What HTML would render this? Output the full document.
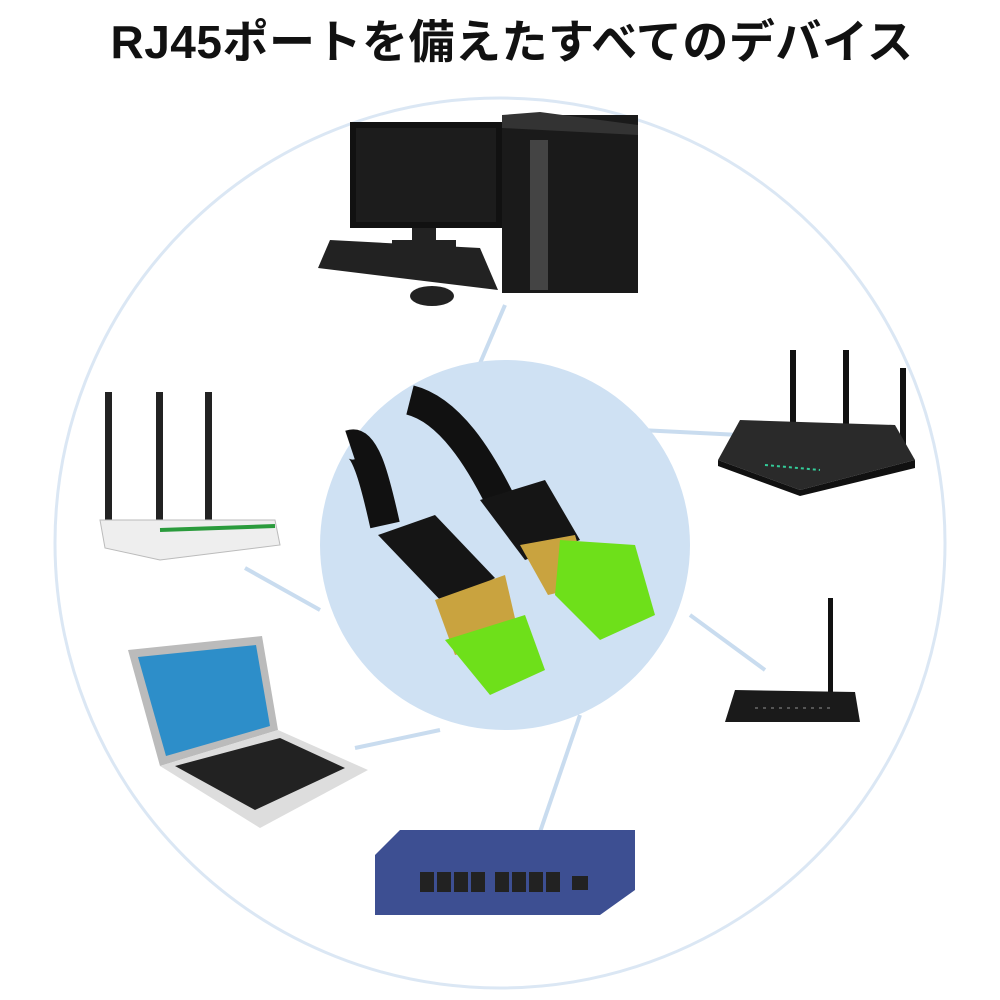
<!DOCTYPE html>
<html><head><meta charset="utf-8"><style>
html,body{margin:0;padding:0;background:#fff;width:1000px;height:1000px;overflow:hidden}
.t{position:absolute;left:0;top:6px;width:1000px;text-align:center;font:700 46px "Liberation Sans","Noto Sans CJK JP",sans-serif;color:#111;padding-left:24px;box-sizing:border-box;letter-spacing:0.5px}
</style></head><body>
<div class="t">RJ45ポートを備えたすべてのデバイス</div>
<svg width="1000" height="1000" style="position:absolute;left:0;top:0">
<circle cx="500" cy="543" r="445" fill="none" stroke="#dbe7f4" stroke-width="3"/>
<g stroke="#c9dcef" stroke-width="4">
<line x1="505" y1="305" x2="475" y2="375"/>
<line x1="245" y1="568" x2="320" y2="610"/>
<line x1="640" y1="430" x2="740" y2="435"/>
<line x1="690" y1="615" x2="765" y2="670"/>
<line x1="355" y1="748" x2="440" y2="730"/>
<line x1="580" y1="715" x2="540" y2="832"/>
</g>
<circle cx="505" cy="545" r="185" fill="#cfe1f3"/>
<!-- PC -->
<rect x="350" y="122" width="152" height="106" fill="#111"/>
<rect x="356" y="128" width="140" height="94" fill="#1c1c1c"/>
<rect x="412" y="228" width="24" height="14" fill="#222"/>
<rect x="392" y="240" width="64" height="8" fill="#222"/>
<rect x="502" y="115" width="136" height="178" fill="#1a1a1a"/>
<polygon points="502,115 540,112 638,125 638,135 502,128" fill="#333"/>
<rect x="530" y="140" width="18" height="150" fill="#444"/>
<polygon points="330,240 480,248 498,290 318,268" fill="#222"/>
<ellipse cx="432" cy="296" rx="22" ry="10" fill="#222"/>
<!-- white router -->
<rect x="105" y="392" width="7" height="132" fill="#222"/>
<rect x="156" y="392" width="7" height="128" fill="#222"/>
<rect x="205" y="392" width="7" height="128" fill="#222"/>
<polygon points="100,520 275,520 280,545 160,560 105,548" fill="#eee" stroke="#bbb"/>
<line x1="160" y1="530" x2="275" y2="526" stroke="#2a9b3c" stroke-width="4"/>
<!-- black router -->
<rect x="790" y="350" width="6" height="90" fill="#111"/>
<rect x="843" y="350" width="6" height="100" fill="#111"/>
<rect x="900" y="368" width="6" height="80" fill="#111"/>
<polygon points="740,420 895,425 915,460 800,490 718,460" fill="#2a2a2a"/>
<polygon points="718,460 800,490 915,460 915,468 800,496 718,466" fill="#111"/>
<line x1="765" y1="465" x2="820" y2="470" stroke="#3c9" stroke-width="2" stroke-dasharray="3 3"/>
<!-- small router -->
<rect x="828" y="598" width="5" height="100" fill="#111"/>
<polygon points="735,690 855,692 860,722 725,722" fill="#1a1a1a"/>
<line x1="755" y1="708" x2="830" y2="708" stroke="#555" stroke-width="2" stroke-dasharray="3 5"/>
<!-- laptop -->
<polygon points="128,650 262,636 278,730 160,766" fill="#bbb"/>
<polygon points="138,657 256,645 270,726 166,756" fill="#2d8ec9"/>
<polygon points="160,766 278,730 368,770 260,828" fill="#ddd"/>
<polygon points="175,766 280,738 345,768 255,810" fill="#222"/>
<!-- switch -->
<polygon points="375,855 400,830 635,830 635,890 600,915 375,915" fill="#3d4f92"/>
<g fill="#222">
<rect x="420" y="872" width="14" height="20"/><rect x="437" y="872" width="14" height="20"/>
<rect x="454" y="872" width="14" height="20"/><rect x="471" y="872" width="14" height="20"/>
<rect x="495" y="872" width="14" height="20"/><rect x="512" y="872" width="14" height="20"/>
<rect x="529" y="872" width="14" height="20"/><rect x="546" y="872" width="14" height="20"/>
<rect x="572" y="876" width="16" height="14"/>
</g>
<!-- cables -->
<path d="M350 445 C 365 440 375 480 385 525" stroke="#111" stroke-width="30" fill="none"/>
<path d="M410 400 C 450 410 480 460 500 500" stroke="#111" stroke-width="30" fill="none"/>
<polygon points="378,535 435,515 495,578 445,605" fill="#151515"/>
<polygon points="480,500 545,480 580,540 525,560" fill="#151515"/>
<polygon points="435,600 505,575 520,640 455,655" fill="#c9a33f"/>
<polygon points="520,545 575,535 590,585 548,595" fill="#c9a33f"/>
<polygon points="445,640 525,615 545,670 490,695" fill="#6ee01a"/>
<polygon points="560,540 635,545 655,615 600,640 555,595" fill="#6ee01a"/>
</svg>
</body></html>
